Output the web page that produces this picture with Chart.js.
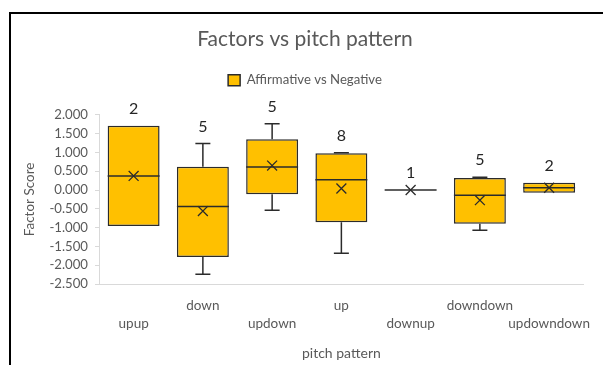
<!DOCTYPE html>
<html>
<head>
<meta charset="utf-8">
<script src="https://cdn.jsdelivr.net/npm/chart.js@4.4.1/dist/chart.umd.min.js"></script>
<style>
  html, body { margin: 0; padding: 0; background: #fff; }
  #wrap { position: relative; width: 603px; height: 365px; overflow: hidden; background: #fff; }
  #c { position: absolute; left: 0; top: 0; }
  #frame { position: absolute; left: 9px; top: 12px; width: 700px; height: 400px;
           border-top: 2px solid #000; border-left: 2px solid #000; pointer-events: none; }
</style>
</head>
<body>
<div id="wrap">
  <canvas id="c" width="603" height="365"></canvas>
  <div id="frame"></div>
</div>
<script>
// Pitch-pattern categories and the box-plot summary of factor scores for each
const categories = ['upup', 'down', 'updown', 'up', 'downup', 'downdown', 'updowndown'];
const counts     = [2, 5, 5, 8, 1, 5, 2];
const whiskerMin = [-0.96, -2.24, -0.54, -1.68, 0.00, -1.07, -0.07];
const q1         = [-0.96, -1.78, -0.11, -0.86, 0.00, -0.90, -0.07];
const medians    = [0.375, -0.44, 0.61, 0.27, 0.00, -0.14, 0.06];
const q3         = [1.71, 0.62, 1.35, 0.975, 0.00, 0.32, 0.19];
const whiskerMax = [1.71, 1.24, 1.76, 0.99, 0.00, 0.34, 0.19];
const means      = [0.375, -0.56, 0.65, 0.04, 0.00, -0.27, 0.06];
const yTicks     = [-2.5, -2.0, -1.5, -1.0, -0.5, 0.0, 0.5, 1.0, 1.5, 2.0];

const seriesName = 'Affirmative vs Negative';
const boxFill = '#FFC000';
const edge = '#2b2b2b';
const textGray = '#595959';
const axisGray = '#d9d9d9';
const fontFamily = 'Lato, "Open Sans", sans-serif';

// Whiskers, median lines and count labels drawn on top of the floating bars
const boxDecor = {
  id: 'boxDecor',
  afterDatasetsDraw(chart) {
    const { ctx, scales: { x, y } } = chart;
    const meta = chart.getDatasetMeta(0);
    ctx.save();
    ctx.strokeStyle = edge;
    ctx.lineWidth = 1.5;
    categories.forEach((cat, i) => {
      const cx = x.getPixelForValue(i);
      const half = meta.data[i].width / 2;
      const cap = 7.5;
      const pMin = y.getPixelForValue(whiskerMin[i]);
      const pMax = y.getPixelForValue(whiskerMax[i]);
      const pQ1 = y.getPixelForValue(q1[i]);
      const pQ3 = y.getPixelForValue(q3[i]);
      const pMed = y.getPixelForValue(medians[i]);
      ctx.beginPath();
      if (whiskerMax[i] > q3[i]) {
        ctx.moveTo(cx, pQ3); ctx.lineTo(cx, pMax);
        ctx.moveTo(cx - cap, pMax); ctx.lineTo(cx + cap, pMax);
      }
      if (whiskerMin[i] < q1[i]) {
        ctx.moveTo(cx, pQ1); ctx.lineTo(cx, pMin);
        ctx.moveTo(cx - cap, pMin); ctx.lineTo(cx + cap, pMin);
      }
      ctx.moveTo(cx - half, pMed); ctx.lineTo(cx + half, pMed);
      ctx.stroke();

      ctx.fillStyle = '#262626';
      ctx.font = '16px ' + fontFamily;
      ctx.textAlign = 'center';
      ctx.textBaseline = 'middle';
      ctx.fillText(String(counts[i]), cx, pMax - 17);
    });
    ctx.restore();
  }
};

new Chart(document.getElementById('c'), {
  type: 'bar',
  data: {
    labels: categories,
    datasets: [
      {
        label: seriesName,
        data: categories.map((c, i) => [q1[i], q3[i]]),
        backgroundColor: boxFill,
        borderColor: edge,
        borderWidth: 1.5,
        borderSkipped: false,
        barPercentage: 0.75,
        categoryPercentage: 1.0,
        order: 2
      },
      {
        type: 'line',
        label: 'Mean',
        data: means,
        showLine: false,
        pointStyle: 'crossRot',
        pointRadius: 7,
        pointHoverRadius: 7,
        pointBorderColor: edge,
        pointBorderWidth: 1.3,
        order: 1
      }
    ]
  },
  options: {
    responsive: false,
    animation: false,
    layout: { padding: { left: 22, right: 15, top: 0, bottom: 0 } },
    plugins: {
      title: {
        display: true,
        text: 'Factors vs pitch pattern',
        color: textGray,
        font: { family: fontFamily, size: 21, weight: 'normal', lineHeight: 1.2 },
        padding: { top: 26.4, bottom: 12 }
      },
      subtitle: {
        display: true,
        text: '',
        weight: 1,
        font: { size: 10, lineHeight: 1 },
        padding: { top: 0, bottom: 8 }
      },
      legend: {
        display: true,
        position: 'top',
        labels: {
          color: textGray,
          font: { family: fontFamily, size: 13.2 },
          boxWidth: 12,
          boxHeight: 11,
          padding: 10,
          filter: (item) => item.datasetIndex === 0
        }
      },
      tooltip: { enabled: false }
    },
    scales: {
      x: {
        offset: true,
        grid: { display: false, drawTicks: false },
        border: { display: true, color: axisGray, width: 1 },
        ticks: {
          autoSkip: false,
          maxRotation: 0,
          minRotation: 0,
          padding: 12,
          color: textGray,
          font: { family: fontFamily, size: 13.5, lineHeight: 1.378 },
          callback: (value, index) => index % 2 === 0 ? ['', categories[index]] : [categories[index], '']
        },
        title: {
          display: true,
          text: 'pitch pattern',
          color: textGray,
          font: { family: fontFamily, size: 14, lineHeight: 1.2 },
          padding: { top: 0, bottom: 3.6 }
        },
        afterFit: (scale) => { scale.height = 81; }
      },
      y: {
        min: yTicks[0],
        max: yTicks[yTicks.length - 1],
        afterBuildTicks: (scale) => { scale.ticks = yTicks.map(v => ({ value: v })); },
        grid: { display: true, drawOnChartArea: false, drawTicks: true, tickLength: 4, color: axisGray },
        border: { display: true, color: axisGray, width: 1 },
        ticks: {
          autoSkip: false,
          padding: 7,
          color: textGray,
          font: { family: fontFamily, size: 13.2, lineHeight: 1 },
          callback: (value) => Number(value).toFixed(3)
        },
        title: {
          display: true,
          text: 'Factor Score',
          color: textGray,
          font: { family: fontFamily, size: 13.5, lineHeight: 1.2 },
          padding: { top: 0, bottom: 0 }
        },
        afterFit: (scale) => { scale.width = 77; }
      }
    }
  },
  plugins: [boxDecor]
});
</script>
</body>
</html>
